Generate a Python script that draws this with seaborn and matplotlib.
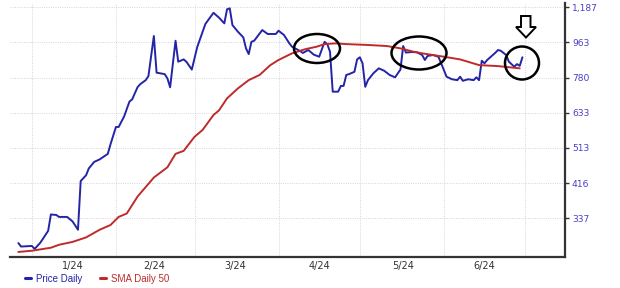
import numpy as np
import pandas as pd
import matplotlib
matplotlib.use("Agg")
import matplotlib.pyplot as plt
import matplotlib.dates as mdates
from matplotlib.ticker import NullLocator, NullFormatter, FixedLocator
from matplotlib.patches import Ellipse, Polygon
import seaborn as sns

# ---------------- data ----------------
price_dates = ['2023-12-27','2023-12-28','2024-01-01','2024-01-02','2024-01-04','2024-01-05','2024-01-07','2024-01-08',
               '2024-01-10','2024-01-11','2024-01-14','2024-01-16','2024-01-18','2024-01-19','2024-01-21','2024-01-22',
               '2024-01-24','2024-01-26','2024-01-29','2024-01-30','2024-02-01','2024-02-02','2024-02-04','2024-02-06',
               '2024-02-07','2024-02-09','2024-02-10','2024-02-12','2024-02-13','2024-02-15','2024-02-16','2024-02-19',
               '2024-02-20','2024-02-21','2024-02-23','2024-02-24','2024-02-26','2024-02-27','2024-02-29','2024-03-02',
               '2024-03-05','2024-03-08','2024-03-10','2024-03-12','2024-03-13','2024-03-14','2024-03-15','2024-03-17',
               '2024-03-19','2024-03-20','2024-03-21','2024-03-22','2024-03-23','2024-03-26','2024-03-28','2024-03-31',
               '2024-04-01','2024-04-03','2024-04-05','2024-04-06','2024-04-09','2024-04-10','2024-04-12','2024-04-14',
               '2024-04-16','2024-04-18','2024-04-19','2024-04-20','2024-04-21','2024-04-23','2024-04-24','2024-04-25',
               '2024-04-26','2024-04-27','2024-04-29','2024-04-30','2024-05-01','2024-05-02','2024-05-03','2024-05-04',
               '2024-05-06','2024-05-08','2024-05-10','2024-05-12','2024-05-14','2024-05-16','2024-05-17','2024-05-18',
               '2024-05-20','2024-05-22','2024-05-24','2024-05-25','2024-05-26','2024-05-28','2024-05-30','2024-05-31',
               '2024-06-02','2024-06-04','2024-06-06','2024-06-07','2024-06-08','2024-06-10','2024-06-12','2024-06-13',
               '2024-06-14','2024-06-15','2024-06-16','2024-06-17','2024-06-20','2024-06-21','2024-06-22','2024-06-24',
               '2024-06-25','2024-06-27','2024-06-28','2024-06-29','2024-06-30']
price_values = [291, 285, 286, 281, 291, 298, 313, 345,
                344, 340, 340, 331, 315, 421, 436, 454,
                472, 479, 495, 524, 581, 581, 618, 676,
                685, 737, 750, 768, 787, 999, 803, 796,
                776, 736, 971, 857, 869, 857, 818, 935,
                1073, 1147, 1115, 1077, 1171, 1178, 1066, 1025,
                991, 928, 897, 965, 971, 1035, 1011, 1011,
                1031, 1005, 956, 937, 913, 903, 919, 894,
                883, 965, 952, 909, 717, 717, 742, 742,
                792, 796, 807, 869, 880, 849, 738, 768,
                800, 824, 812, 792, 781, 818, 941, 905,
                908, 907, 892, 866, 887, 892, 883, 849,
                784, 772, 768, 784, 765, 772, 768, 781,
                768, 862, 849, 866, 904, 919, 915, 892,
                857, 832, 845, 836, 880]

sma_dates = ['2023-12-27','2024-01-01','2024-01-08','2024-01-11','2024-01-16','2024-01-21','2024-01-26','2024-01-30',
             '2024-02-02','2024-02-05','2024-02-09','2024-02-15','2024-02-20','2024-02-23','2024-02-26','2024-03-01',
             '2024-03-04','2024-03-08','2024-03-10','2024-03-13','2024-03-17','2024-03-21','2024-03-25','2024-03-29',
             '2024-04-01','2024-04-06','2024-04-11','2024-04-15','2024-04-18','2024-04-22','2024-04-26','2024-05-04',
             '2024-05-11','2024-05-16','2024-05-21','2024-05-24','2024-06-01','2024-06-07','2024-06-14','2024-06-21',
             '2024-06-29']
sma_values = [276, 278, 283, 288, 293, 301, 315, 324,
              340, 347, 384, 430, 457, 495, 504, 548,
              571, 624, 641, 689, 731, 768, 792, 840,
              866, 901, 924, 937, 952, 956, 952, 947,
              941, 928, 909, 901, 883, 869, 840, 835,
              824]

y_ticks = [337, 416, 513, 633, 780, 963, 1187]
y_tick_labels = ['337', '416', '513', '633', '780', '963', '1,187']
month_starts = ['2024-01-01', '2024-02-01', '2024-03-01', '2024-04-01', '2024-05-01', '2024-06-01', '2024-07-01']
month_label_dates = ['2024-01-16', '2024-02-15', '2024-03-16', '2024-04-16', '2024-05-17', '2024-06-16']
month_labels = ['1/24', '2/24', '3/24', '4/24', '5/24', '6/24']
series_names = ['Price Daily', 'SMA Daily 50']

PRICE_COLOR = '#2424a8'
SMA_COLOR = '#bf2b2b'

# ---------------- figure ----------------
sns.set_style('white')
plt.rcParams['font.family'] = ['DejaVu Sans']

W, H = 620, 288
fig = plt.figure(figsize=(W / 100, H / 100), dpi=100)
L, R, T, B = 10, 565, 3, 257
ax = fig.add_axes([L / W, (H - B) / H, (R - L) / W, (B - T) / H])

price_df = pd.DataFrame({'date': pd.to_datetime(price_dates), 'value': price_values})
sma_df = pd.DataFrame({'date': pd.to_datetime(sma_dates), 'value': sma_values})

sns.lineplot(data=price_df, x='date', y='value', ax=ax, color=PRICE_COLOR, linewidth=1.4,
             label=series_names[0], zorder=3)
sns.lineplot(data=sma_df, x='date', y='value', ax=ax, color=SMA_COLOR, linewidth=1.4,
             label=series_names[1], zorder=3)

ax.set_yscale('log')
ax.set_ylim(267.8, 1216)
ax.set_xlim(pd.Timestamp('2023-12-23 22:00'), pd.Timestamp('2024-07-15 17:00'))

# y axis on right
ax.yaxis.tick_right()
ax.yaxis.set_major_locator(FixedLocator(y_ticks))
ax.yaxis.set_minor_locator(NullLocator())
ax.set_yticklabels(y_tick_labels)
ax.tick_params(axis='y', which='major', direction='out', length=3, width=1, color='#333333',
               labelsize=6.6, labelcolor='#4b40c4', pad=2)

# x axis: gridlines at month starts, labels mid-month
ax.xaxis.set_major_locator(FixedLocator(mdates.date2num(pd.to_datetime(month_starts))))
ax.xaxis.set_major_formatter(NullFormatter())
ax.xaxis.set_minor_locator(FixedLocator(mdates.date2num(pd.to_datetime(month_label_dates))))
ax.xaxis.set_minor_formatter(matplotlib.ticker.FixedFormatter(month_labels))
ax.tick_params(axis='x', which='major', direction='out', length=3, width=0.8, color='#aaaaaa')
ax.tick_params(axis='x', which='minor', length=0, labelsize=7, labelcolor='#333333', pad=3)

ax.set_xlabel('')
ax.set_ylabel('')

ax.grid(True, which='major', axis='both', color='#d0d0d0', linestyle=(0, (1.2, 1.5)), linewidth=0.6)
ax.set_axisbelow(True)

for s in ['left', 'top']:
    ax.spines[s].set_visible(False)
for s in ['bottom', 'right']:
    ax.spines[s].set_visible(True)
    ax.spines[s].set_color('#333333')
    ax.spines[s].set_linewidth(1.6)

# legend below the axis
leg = ax.legend(loc='center left', bbox_to_anchor=((25 - L) / (R - L), (B - 278.5) / (B - T)),
                ncol=2, frameon=False, borderpad=0, borderaxespad=0, handlelength=0.6,
                handletextpad=0.5, columnspacing=1.85,
                prop={'family': 'Liberation Sans', 'size': 7}, labelcolor='linecolor')
for line in leg.get_lines():
    line.set_linewidth(2.2)

# annotations (pixel -> axes fraction)
def pa(px, py):
    return ((px - L) / (R - L), (B - py) / (B - T))

for cx, cy, w, h in [(317, 48.5, 46, 29), (419, 53, 55, 33), (522, 63, 34, 33)]:
    c = pa(cx, cy)
    ax.add_patch(Ellipse(c, w / (R - L), h / (B - T), transform=ax.transAxes,
                         fill=False, edgecolor='black', linewidth=1.8, zorder=5, clip_on=False))

arrow_px = [(521, 16), (530.5, 16), (530.5, 27), (536, 27), (526, 37.5), (516, 27), (521, 27)]
ax.add_patch(Polygon([pa(x, y) for x, y in arrow_px], closed=True, transform=ax.transAxes,
                     facecolor='white', edgecolor='black', linewidth=1.4, zorder=6, clip_on=False))

fig.savefig('out.png', dpi=100)
